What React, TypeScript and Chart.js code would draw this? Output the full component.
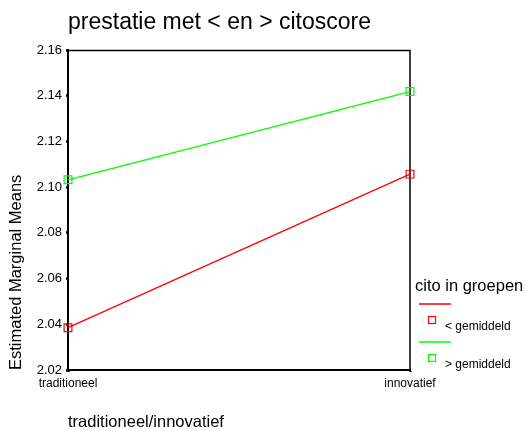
import React, { useEffect, useRef } from "react";
import { Chart, registerables } from "chart.js";

Chart.register(...registerables);

const chartTitle = "prestatie met < en > citoscore";
const categories = ["traditioneel", "innovatief"];
const xAxisTitle = "traditioneel/innovatief";
const yAxisTitle = "Estimated Marginal Means";
const legendTitle = "cito in groepen";
const seriesLabels = ["< gemiddeld", "> gemiddeld"];
const belowAverage = [2.0385, 2.1057];
const aboveAverage = [2.1032, 2.1418];
const seriesColors = ["#ff0000", "#00ff00"];
const yMin = 2.02;
const yMax = 2.16;
const yStep = 0.02;

const FONT = "'Liberation Sans', Arial, sans-serif";

const decorPlugin = {
  id: "decor",
  beforeDatasetsDraw(chart: any) {
    const { ctx, chartArea } = chart;
    ctx.save();
    ctx.strokeStyle = "#000";
    ctx.lineWidth = 1.5;
    ctx.beginPath();
    ctx.moveTo(chartArea.left, chartArea.top + 0.5);
    ctx.lineTo(chartArea.right, chartArea.top + 0.5);
    ctx.lineTo(chartArea.right, chartArea.bottom);
    ctx.stroke();
    ctx.restore();
  },
  afterDraw(chart: any) {
    const { ctx, chartArea } = chart;
    ctx.save();
    ctx.fillStyle = "#000";
    ctx.textBaseline = "middle";
    ctx.textAlign = "left";
    ctx.font = `23px ${FONT}`;
    ctx.fillText(chartTitle, chartArea.left, 23);

    const lx = chartArea.right + 6;
    ctx.font = `16.5px ${FONT}`;
    ctx.fillText(legendTitle, lx - 1, 286);

    const rows = [304, 342];
    chart.data.datasets.forEach((ds: any, i: number) => {
      const y0 = rows[i];
      ctx.strokeStyle = ds.borderColor;
      ctx.lineWidth = 1.5;
      ctx.beginPath();
      ctx.moveTo(lx + 3, y0);
      ctx.lineTo(lx + 35, y0);
      ctx.stroke();
      ctx.lineWidth = 1.2;
      ctx.strokeRect(lx + 12.5, y0 + 12.5, 7, 7);
      ctx.fillStyle = "#000";
      ctx.font = `12px ${FONT}`;
      ctx.fillText(ds.label, lx + 29, y0 + 23);
    });
    ctx.restore();
  },
};

export default function App() {
  const canvasRef = useRef<HTMLCanvasElement>(null);

  useEffect(() => {
    if (!canvasRef.current) return;
    Chart.defaults.font.family = FONT;
    Chart.defaults.color = "#000";
    const chart = new Chart(canvasRef.current, {
      type: "line",
      data: {
        labels: categories,
        datasets: [belowAverage, aboveAverage].map((vals, i) => ({
          label: seriesLabels[i],
          data: vals,
          borderColor: seriesColors[i],
          backgroundColor: "transparent",
          borderWidth: 1.3,
          pointStyle: "rect",
          pointRadius: 5.5,
          pointBorderWidth: 1.2,
          pointBorderColor: seriesColors[i],
          pointBackgroundColor: "transparent",
          tension: 0,
        })),
      },
      options: {
        animation: false,
        responsive: true,
        maintainAspectRatio: false,
        clip: false as any,
        layout: { padding: { left: 0, top: 50, right: 115, bottom: 0 } },
        plugins: {
          legend: { display: false },
          title: { display: false },
          tooltip: { enabled: false },
        },
        scales: {
          x: {
            type: "category",
            offset: false,
            grid: {
              display: true,
              drawOnChartArea: false,
              tickLength: 2,
              tickWidth: 2.5,
              tickColor: "#000",
            },
            border: { display: true, color: "#000", width: 2 },
            ticks: { font: { size: 12 }, padding: 4, maxRotation: 0, color: "#000" },
            title: {
              display: true,
              text: xAxisTitle,
              align: "start",
              font: { size: 16.5, lineHeight: 1 },
              padding: { top: 0, bottom: 0 },
              color: "#000",
            },
            afterFit(scale: any) {
              scale.height = 61;
            },
          },
          y: {
            min: yMin,
            max: yMax,
            grid: {
              display: true,
              drawOnChartArea: false,
              tickLength: 2,
              tickWidth: 2.5,
              tickColor: "#000",
            },
            border: { display: true, color: "#000", width: 2 },
            ticks: {
              stepSize: yStep,
              font: { size: 13 },
              padding: 4,
              color: "#000",
              callback: (v: any) => Number(v).toFixed(2),
            },
            title: {
              display: true,
              text: yAxisTitle,
              align: "start",
              font: { size: 16.5 },
              padding: { top: 7, bottom: 0 },
              color: "#000",
            },
            afterFit(scale: any) {
              scale.width = 68;
            },
          },
        },
      },
      plugins: [decorPlugin],
    });
    return () => chart.destroy();
  }, []);

  return (
    <div style={{ position: "fixed", left: 0, top: 0, width: 525, height: 431, background: "#fff" }}>
      <canvas ref={canvasRef} />
    </div>
  );
}
